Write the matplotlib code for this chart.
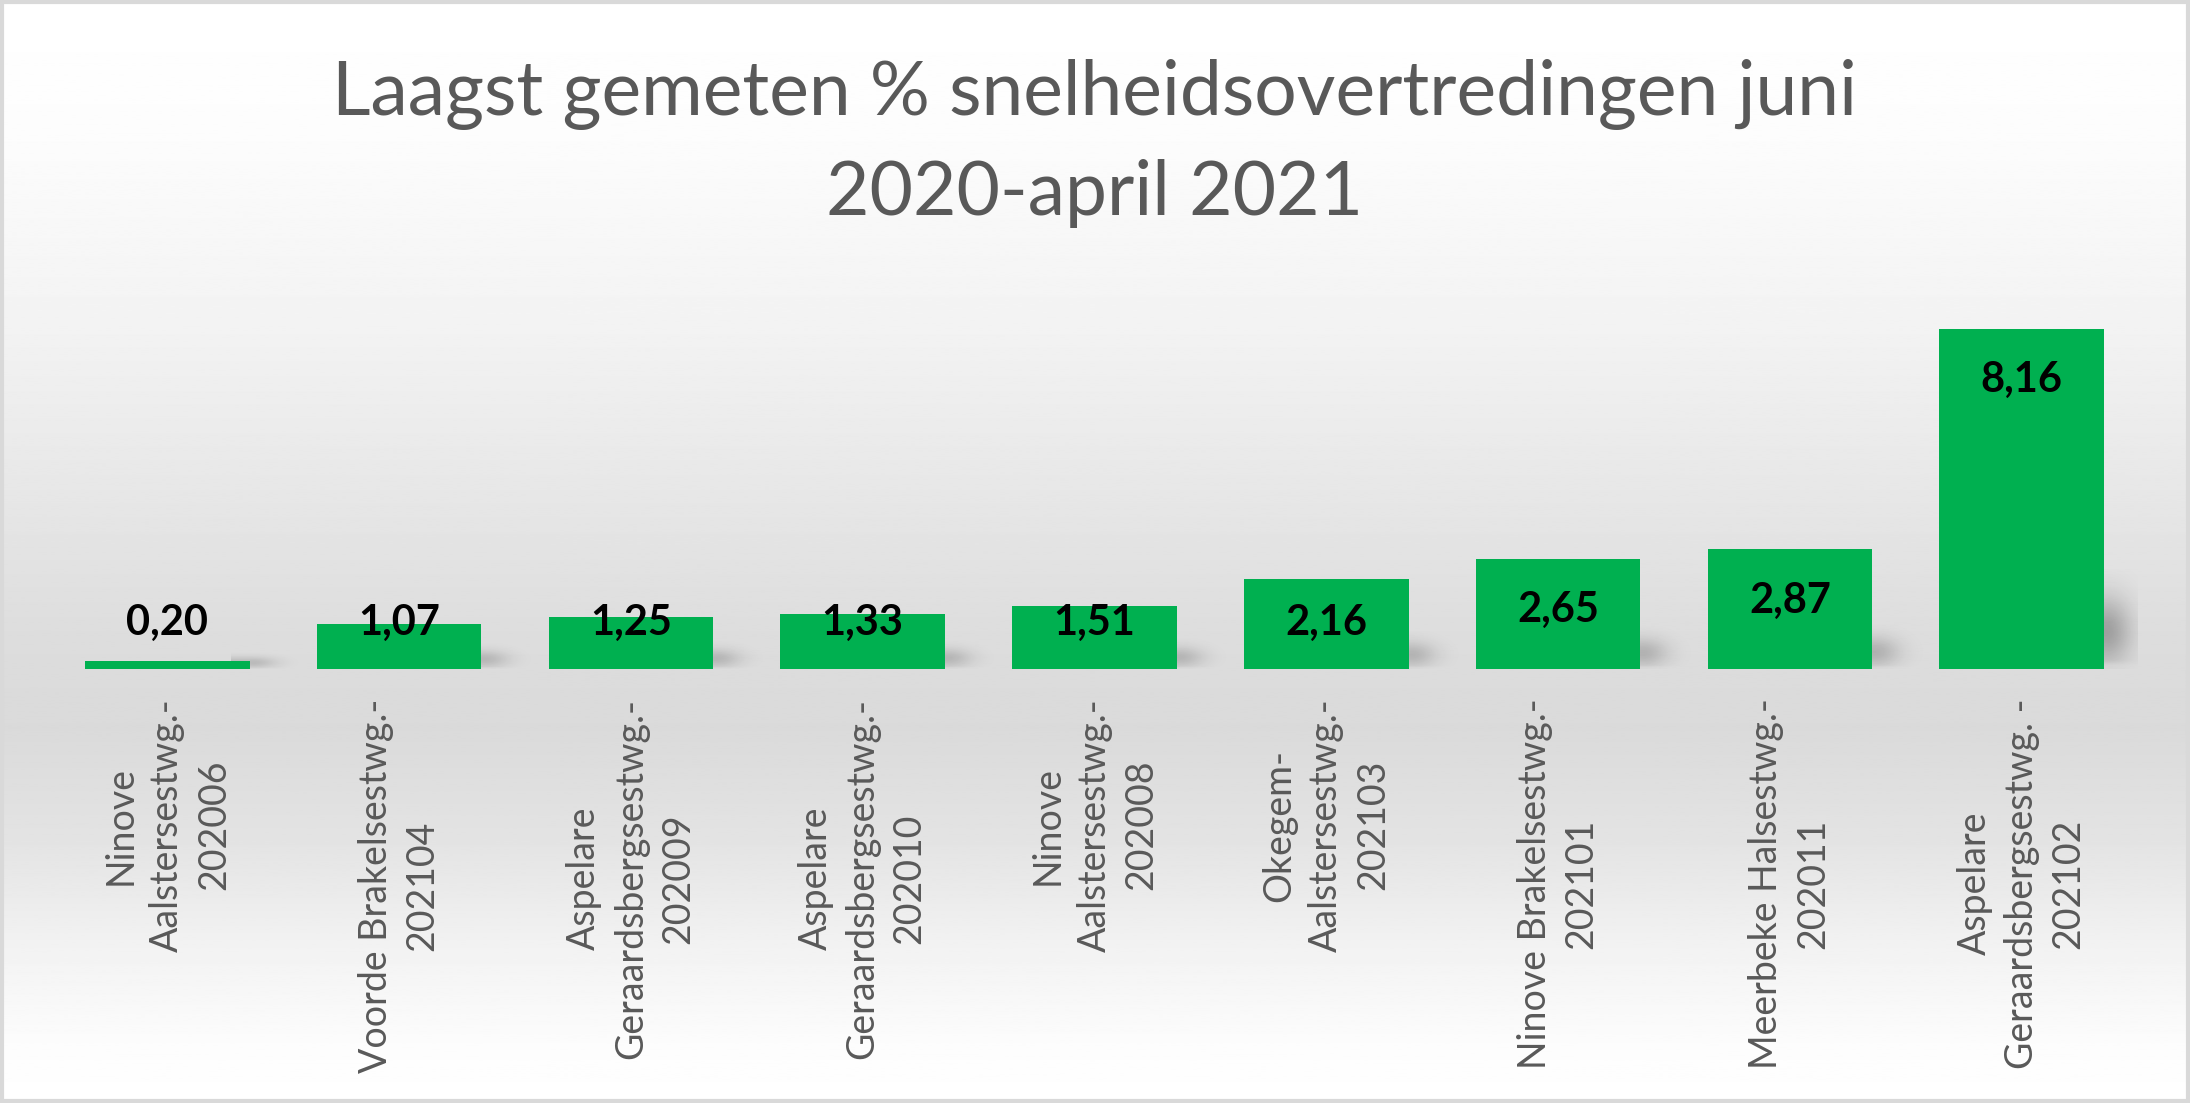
import numpy as np
import matplotlib.pyplot as plt
from matplotlib.patches import Rectangle

plt.rcParams['font.family'] = ['Lato', 'DejaVu Sans']

# data
locations = [
    'Ninove\nAalstersestwg.-\n202006',
    'Voorde Brakelsestwg.-\n202104',
    'Aspelare\nGeraardsbergsestwg.-\n202009',
    'Aspelare\nGeraardsbergsestwg.-\n202010',
    'Ninove\nAalstersestwg.-\n202008',
    'Okegem-\nAalstersestwg.-\n202103',
    'Ninove Brakelsestwg.-\n202101',
    'Meerbeke Halsestwg.-\n202011',
    'Aspelare\nGeraardsbergsestwg. -\n202102',
]
percentages = [0.20, 1.07, 1.25, 1.33, 1.51, 2.16, 2.65, 2.87, 8.16]
title_lines = ['Laagst gemeten % snelheidsovertredingen juni', '2020-april 2021']

green = '#00b050'
grey_text = '#595959'

W, H = 2190, 1103
fig = plt.figure(figsize=(W / 100, H / 100), dpi=100)

# background gradient (white -> grey -> white)
bg = fig.add_axes([0, 0, 1, 1])
ys = np.linspace(0, 1, 600)
stops_y = [0.0, 0.12, 0.30, 0.58, 0.66, 0.76, 0.86, 0.95, 1.0]
stops_v = [1.0, 0.99, 0.95, 0.865, 0.855, 0.89, 0.95, 0.99, 1.0]
grad = np.interp(ys, stops_y, stops_v)
bg.imshow(np.repeat(grad[:, None], 2, axis=1), cmap='gray', vmin=0, vmax=1,
          aspect='auto', extent=[0, 1, 1, 0])
bg.set_xlim(0, 1)
bg.set_ylim(1, 0)
bg.axis('off')
bg.add_patch(Rectangle((0.0007, 0.0014), 0.9986, 0.9972, transform=bg.transAxes,
                       fill=False, edgecolor='#d9d9d9', linewidth=3))

# main axes
ax = fig.add_axes([51.5 / W, (H - 669) / H, 2086 / W, 375 / H])
ax.patch.set_alpha(0)
x = np.arange(len(percentages))
bw = 0.71

# soft shadow blobs to the lower right of each bar
nx, ny = 80, 80
for xi, v in zip(x, percentages):
    edge = xi + bw / 2
    x0, x1 = edge - 0.08, edge + 0.28
    sh = 0.25 * v + 0.35
    gx = np.linspace(x0, x1, nx)
    t = np.linspace(1, 0, ny)  # image rows: top -> bottom
    fx = np.where(gx < edge + 0.01, 1.0, np.exp(-((gx - edge - 0.01) / 0.105) ** 2))
    fy = np.exp(-((t - 0.38) / 0.34) ** 2)
    fy = fy * np.clip(t / 0.08, 0.35, 1)
    amp = 0.15 + 0.13 * min(v / 8.0, 1)
    rgba = np.zeros((ny, nx, 4))
    rgba[..., 3] = amp * np.outer(fy, fx)
    ax.imshow(rgba, extent=[x0, x1, 0, sh], aspect='auto', zorder=1,
              interpolation='bilinear')
    # faint band under the bar
    ax.add_patch(Rectangle((xi - bw / 2, -0.07), bw + 0.02, 0.07,
                           color='black', alpha=0.04, lw=0, zorder=1))

bars = ax.bar(x, percentages, width=bw, color=green, zorder=3)

# data labels (inside end, kept above a minimum height)
for xi, v in zip(x, percentages):
    ypos = max(v - 1.23, 1.11)
    ax.text(xi, ypos, f'{v:.2f}'.replace('.', ','), ha='center', va='center',
            fontsize=30, fontweight='bold', color='black', zorder=4)

ax.set_xlim(-0.5, len(percentages) - 0.5)
ax.set_ylim(0, 9)
ax.set_xticks(x)
ax.set_xticklabels(locations, rotation=90, ha='center', va='top',
                   multialignment='center', fontsize=27, color=grey_text,
                   linespacing=1.38)
ax.tick_params(axis='x', length=0, pad=21)
ax.set_yticks([])
for s in ax.spines.values():
    s.set_visible(False)

fig.text(0.5, 1 - 115 / H, title_lines[0], ha='center', va='baseline',
         fontsize=54, color=grey_text)
fig.text(0.5, 1 - 215 / H, title_lines[1], ha='center', va='baseline',
         fontsize=54, color=grey_text)

fig.savefig('out.png', dpi=100)
